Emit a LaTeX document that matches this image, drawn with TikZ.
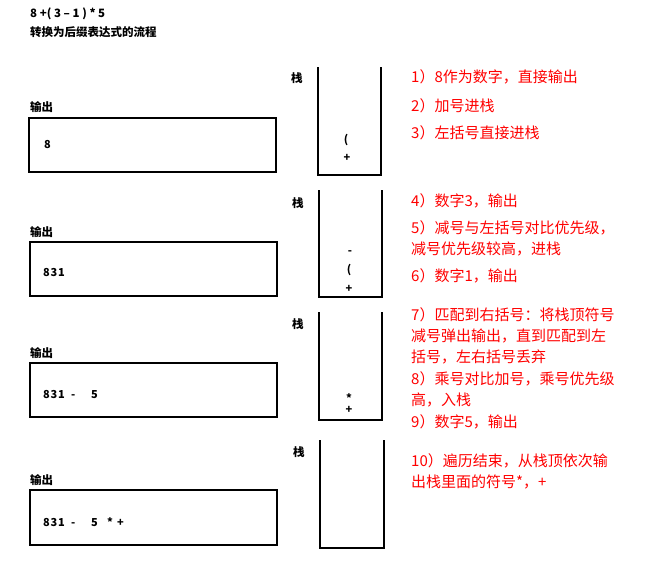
\documentclass[tikz,border=0pt]{standalone}
\usepackage{fontspec}
\setmainfont{Noto Sans CJK SC}
\newfontfamily\cjk{Noto Sans CJK SC}
\newcommand{\cw}[2]{\makebox[#1pt][l]{#2}}
\begin{document}
\begin{tikzpicture}[x=1pt,y=-1pt,
  lbl/.style={anchor=west,inner sep=0pt,font=\cjk\fontsize{11.5}{13}\selectfont\bfseries},
  outtxt/.style={anchor=west,inner sep=0pt,font=\cjk\fontsize{11}{13}\selectfont\bfseries},
  stk/.style={inner sep=0pt,font=\cjk\fontsize{11}{13}\selectfont\bfseries},
  note/.style={anchor=west,inner sep=0pt,text=red,font=\cjk\fontsize{15}{20}\selectfont},
  outbox/.style={draw=black,line width=2pt},
  stackline/.style={draw=black,line width=2pt}]
\useasboundingbox (0,0) rectangle (647,571);
% title
\node[lbl] (t1) at (30,14) {8 +( 3 – 1 ) * 5};
\node[lbl] (t2) at (30,32) {转换为后缀表达式的流程};

% ---- section 1
\node[lbl] (o1) at (30,107) {输出};
\draw[outbox] (29,118) rectangle (276,172);
\node[outtxt] (v1) at (44,145) {8};
\node[lbl] (s1) at (291,78) {栈};
\draw[stackline] (318,67) -- (318,175) -- (381,175) -- (381,67);
\node[stk] (a1) at (346,140) {(};
\node[stk] (b1) at (347,158) {+};

% ---- section 2
\node[lbl] (o2) at (30,232) {输出};
\draw[outbox] (30,242) rectangle (277,296);
\node[outtxt] (v2) at (43,272) {\cw{7.5}{8}\cw{7.5}{3}1};
\node[lbl] (s2) at (292,203) {栈};
\draw[stackline] (319,190) -- (319,297) -- (382,297) -- (382,190);
\node[stk] (a2) at (350,253) {-};
\node[stk] (b2) at (349,270) {(};
\node[stk] (c2) at (349,289) {+};

% ---- section 3
\node[lbl] (o3) at (30,353) {输出};
\draw[outbox] (30,363) rectangle (277,417);
\node[outtxt] (v3) at (43,394) {\cw{7.5}{8}\cw{7.5}{3}\cw{13}{1}\cw{20}{-}5};
\node[lbl] (s3) at (292,324) {栈};
\draw[stackline] (319,312) -- (319,420) -- (382,420) -- (382,312);
\node[stk] (a3) at (349,398) {*};
\node[stk] (b3) at (349,410) {+};

% ---- section 4
\node[lbl] (o4) at (30,480) {输出};
\draw[outbox] (30,490) rectangle (277,545);
\node[outtxt] (v4) at (43,522) {\cw{7.5}{8}\cw{7.5}{3}\cw{13}{1}\cw{20}{-}\cw{16}{5}\cw{10}{*}+};
\node[lbl] (s4) at (293,452) {栈};
\draw[stackline] (320,440) -- (320,548) -- (384,548) -- (384,440);

% ---- notes
\node[note] (n1) at (411,77) {1）8作为数字，直接输出};
\node[note] (n2) at (411,106) {2）加号进栈};
\node[note] (n3) at (411,133) {3）左括号直接进栈};
\node[note] (n4) at (411,201) {4）数字3，输出};
\node[note] (n5a) at (411,228) {5）减号与左括号对比优先级，};
\node[note] (n5b) at (411,249) {减号优先级较高，进栈};
\node[note] (n6) at (411,276) {6）数字1，输出};
\node[note] (n7a) at (411,315) {7）匹配到右括号：将栈顶符号};
\node[note] (n7b) at (411,336) {减号弹出输出，直到匹配到左};
\node[note] (n7c) at (411,357) {括号，左右括号丢弃};
\node[note] (n8a) at (411,379) {8）乘号对比加号，乘号优先级};
\node[note] (n8b) at (411,400) {高，入栈};
\node[note] (n9) at (411,422) {9）数字5，输出};
\node[note] (n10a) at (411,461) {10）遍历结束，从栈顶依次输};
\node[note] (n10b) at (411,482) {出栈里面的符号*，+};
\end{tikzpicture}
\end{document}
